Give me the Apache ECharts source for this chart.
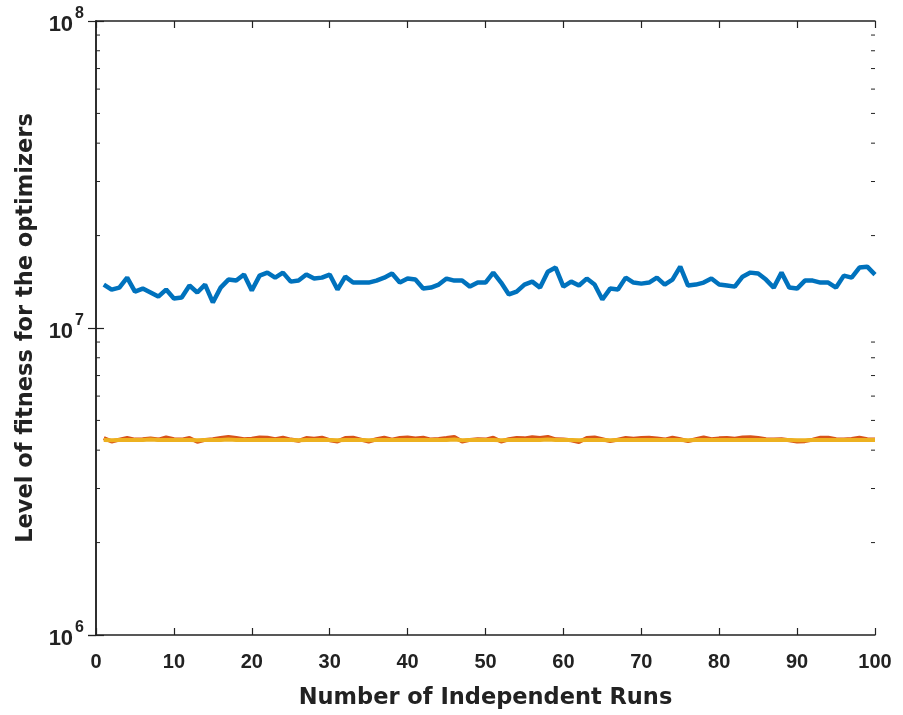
<!DOCTYPE html>
<html><head><meta charset="utf-8">
<script src="https://cdn.jsdelivr.net/npm/echarts@6/dist/echarts.min.js"></script>
<style>html,body{margin:0;padding:0;background:#fff}#c{width:903px;height:715px}</style>
</head><body><div id="c"></div>
<script>
// Runs 1..100
const runs = Array.from({length:100},(_,i)=>i+1);
// Blue optimizer (x1e7)
const blueVals = [1.385,1.334,1.354,1.459,1.314,1.344,1.305,1.266,1.334,1.248,
1.257,1.375,1.305,1.385,1.211,1.354,1.438,1.427,1.493,1.324,
1.481,1.515,1.459,1.515,1.416,1.427,1.493,1.449,1.459,1.493,
1.334,1.470,1.406,1.406,1.406,1.427,1.459,1.504,1.406,1.449,
1.438,1.344,1.354,1.385,1.449,1.427,1.427,1.364,1.406,1.406,
1.515,1.406,1.286,1.314,1.385,1.416,1.354,1.526,1.573,1.364,
1.416,1.375,1.449,1.385,1.238,1.344,1.334,1.459,1.406,1.395,
1.406,1.459,1.385,1.438,1.584,1.375,1.385,1.406,1.449,1.385,
1.375,1.364,1.470,1.515,1.504,1.438,1.354,1.515,1.354,1.344,
1.427,1.427,1.406,1.406,1.354,1.481,1.459,1.573,1.584,1.493];
// Red optimizer (x1e6)
const redVals = [4.38,4.27,4.33,4.38,4.33,4.34,4.37,4.33,4.40,4.34,
4.33,4.38,4.26,4.32,4.34,4.38,4.42,4.38,4.34,4.36,
4.40,4.39,4.34,4.39,4.33,4.29,4.38,4.36,4.39,4.31,
4.27,4.38,4.39,4.33,4.27,4.34,4.39,4.33,4.38,4.40,
4.37,4.39,4.33,4.35,4.38,4.42,4.27,4.32,4.34,4.33,
4.39,4.27,4.34,4.38,4.37,4.41,4.38,4.42,4.34,4.33,
4.31,4.25,4.38,4.40,4.34,4.28,4.33,4.38,4.36,4.38,
4.39,4.37,4.33,4.39,4.34,4.28,4.34,4.40,4.34,4.37,
4.38,4.36,4.40,4.41,4.38,4.34,4.33,4.34,4.31,4.27,
4.28,4.33,4.39,4.39,4.34,4.33,4.35,4.39,4.34,4.33];
// Yellow optimizer (x1e6)
const yellowVals = [4.32,4.31,4.32,4.32,4.32,4.32,4.33,4.32,4.32,4.32,
4.32,4.32,4.31,4.32,4.32,4.32,4.33,4.32,4.32,4.32,
4.32,4.32,4.32,4.32,4.32,4.31,4.32,4.32,4.32,4.32,
4.31,4.32,4.32,4.32,4.31,4.32,4.32,4.32,4.32,4.32,
4.32,4.32,4.32,4.32,4.32,4.33,4.31,4.32,4.32,4.32,
4.32,4.31,4.32,4.32,4.32,4.32,4.32,4.33,4.32,4.32,
4.32,4.31,4.32,4.32,4.32,4.31,4.32,4.32,4.32,4.32,
4.32,4.32,4.32,4.32,4.32,4.31,4.32,4.32,4.32,4.32,
4.32,4.32,4.32,4.32,4.32,4.32,4.32,4.32,4.32,4.31,
4.31,4.32,4.32,4.32,4.32,4.32,4.32,4.32,4.32,4.32];
const xTicks = [0,10,20,30,40,50,60,70,80,90,100];
const yMinorTicks = [2e6,3e6,4e6,5e6,6e6,7e6,8e6,9e6,2e7,3e7,4e7,5e7,6e7,7e7,8e7,9e7];

const FONT = '"Liberation Sans", Arial, Helvetica, sans-serif';
const TFONT = '"DejaVu Sans", "Liberation Sans", Arial, sans-serif';
const AX = '#222';
const chart = echarts.init(document.getElementById('c'), null, {renderer:'canvas'});
const mk = (vals, scale) => runs.map((r,i)=>[r, vals[i]*scale]);
const yLab = v => { const e = Math.round(Math.log10(v)); return '{b|10}{s|' + e + '}'; };
chart.setOption({
  animation:false,
  backgroundColor:'#fff',
  grid:{left:96, right:28, top:21, bottom:79},
  xAxis:[{
    type:'value', min:0, max:100, interval:10,
    name:'Number of Independent Runs', nameLocation:'middle', nameGap:52,
    nameTextStyle:{fontFamily:TFONT, fontWeight:'bold', fontSize:22.5, color:AX},
    axisLine:{lineStyle:{color:AX, width:1.5}},
    axisTick:{inside:true, length:7, lineStyle:{color:AX, width:1.2}},
    axisLabel:{fontFamily:FONT, fontWeight:'bold', fontSize:20, color:AX, margin:17,
      formatter:v=>xTicks.includes(v)?String(v):''},
    splitLine:{show:false}
  },{
    type:'value', min:0, max:100, interval:10, position:'top',
    axisLine:{lineStyle:{color:AX, width:1.5}},
    axisTick:{inside:true, length:7, lineStyle:{color:AX, width:1.2}},
    axisLabel:{show:false}, splitLine:{show:false}
  }],
  yAxis:[{
    type:'log', logBase:10, min:1e6, max:1e8, splitNumber:2,
    name:'Level of fitness for the optimizers', nameLocation:'middle', nameGap:58,
    nameTextStyle:{fontFamily:TFONT, fontWeight:'bold', fontSize:22.5, color:AX},
    axisLine:{lineStyle:{color:AX, width:1.5}},
    axisTick:{inside:true, length:8, lineStyle:{color:AX, width:1.2}},
    axisLabel:{formatter:yLab, margin:12, fontSize:22, fontWeight:'bold', fontFamily:FONT, rich:{
      b:{fontFamily:FONT, fontWeight:'bold', fontSize:22, color:AX, verticalAlign:'bottom', padding:[8,0,0,0]},
      s:{fontFamily:FONT, fontWeight:'bold', fontSize:16, color:AX, verticalAlign:'top', padding:[0,0,12,2]}
    }},
    splitLine:{show:false}
  },{
    type:'log', logBase:10, min:1e6, max:1e8, splitNumber:2, position:'right',
    axisLine:{lineStyle:{color:AX, width:1.5}},
    axisTick:{inside:true, length:8, lineStyle:{color:AX, width:1.2}},
    axisLabel:{show:false}, splitLine:{show:false}
  }],
  series:[
    {type:'custom', xAxisIndex:0, yAxisIndex:0, silent:true, clip:false,
      data:yMinorTicks.map(v=>[0,v]),
      renderItem:(params, api)=>{
        const v = api.value(1);
        const l = api.coord([0, v]);
        const r = api.coord([100, v]);
        return {type:'group', children:[
          {type:'line', shape:{x1:l[0], y1:l[1], x2:l[0]+4, y2:l[1]}, style:{stroke:AX, lineWidth:1}},
          {type:'line', shape:{x1:r[0], y1:r[1], x2:r[0]-4, y2:r[1]}, style:{stroke:AX, lineWidth:1}}
        ]};
      }},
    {type:'line', name:'A', data:mk(blueVals,1e7), showSymbol:false, symbol:'none',
      lineStyle:{color:'#0072BD', width:4.5}, itemStyle:{color:'#0072BD'}},
    {type:'line', name:'B', data:mk(redVals,1e6), showSymbol:false, symbol:'none',
      lineStyle:{color:'#D95319', width:4}, itemStyle:{color:'#D95319'}},
    {type:'line', name:'C', data:mk(yellowVals,1e6), showSymbol:false, symbol:'none',
      lineStyle:{color:'#EDB120', width:4}, itemStyle:{color:'#EDB120'}}
  ]
});
</script></body></html>
